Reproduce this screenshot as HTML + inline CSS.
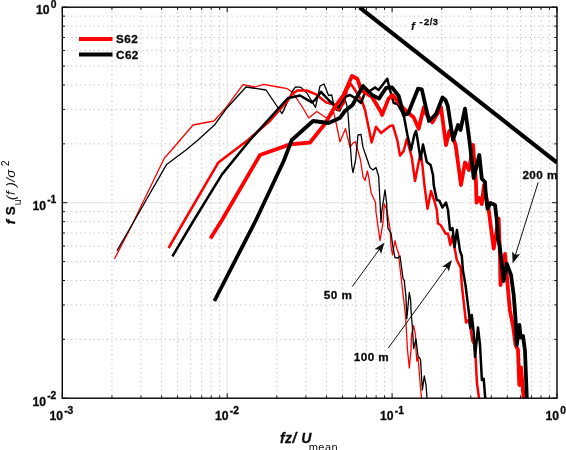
<!DOCTYPE html>
<html><head><meta charset="utf-8"><title>Spectra</title>
<style>html,body{margin:0;padding:0;background:#fff}body{width:566px;height:450px;overflow:hidden;position:relative}</style></head>
<body>
<svg width="566" height="450" viewBox="0 0 566 450" style="position:absolute;left:0;top:0">
<rect x="0" y="0" width="566" height="450" fill="#fff"/>
<path d="M111.94 7.20V398.20M140.98 7.20V398.20M161.58 7.20V398.20M177.56 7.20V398.20M190.62 7.20V398.20M201.66 7.20V398.20M211.22 7.20V398.20M219.65 7.20V398.20M276.84 7.20V398.20M305.88 7.20V398.20M326.48 7.20V398.20M342.46 7.20V398.20M355.52 7.20V398.20M366.56 7.20V398.20M376.12 7.20V398.20M384.55 7.20V398.20M441.74 7.20V398.20M470.78 7.20V398.20M491.38 7.20V398.20M507.36 7.20V398.20M520.42 7.20V398.20M531.46 7.20V398.20M541.02 7.20V398.20M549.45 7.20V398.20M62.30 339.35H557.00M62.30 304.92H557.00M62.30 280.50H557.00M62.30 261.55H557.00M62.30 246.07H557.00M62.30 232.98H557.00M62.30 221.65H557.00M62.30 211.65H557.00M62.30 143.85H557.00M62.30 109.42H557.00M62.30 85.00H557.00M62.30 66.05H557.00M62.30 50.57H557.00M62.30 37.48H557.00M62.30 26.15H557.00M62.30 16.15H557.00" stroke="#c6c2be" stroke-width="1" stroke-dasharray="1.3 3.15" fill="none"/>
<path d="M227.20 7.20V398.20M392.10 7.20V398.20M62.30 202.70H557.00" stroke="#e4e4e4" stroke-width="1" fill="none"/>
<clipPath id="c"><rect x="62.30" y="7.20" width="494.70" height="391.50"/></clipPath>
<g clip-path="url(#c)" fill="none" stroke-linejoin="round" stroke-linecap="butt">
<polyline points="114.4,259.0 130.0,229.0 164.4,158.0 171.6,150.0 193.0,125.0 214.0,121.0 226.0,107.6 243.0,84.6 255.0,87.0 264.0,84.4 278.0,87.0 287.5,88.7 293.0,93.0 303.0,108.0 308.7,118.0 316.8,111.5 325.0,117.0 328.0,118.6 333.7,112.5 336.0,122.5 340.0,141.8 345.5,128.7 350.0,147.4 353.0,143.0 355.5,141.8 358.0,151.0 360.5,160.0 363.0,176.8 365.0,180.5 367.4,171.0 369.0,178.7 371.0,192.4 375.5,202.4 376.0,212.0 380.0,240.6 383.0,222.5 384.3,204.0 386.9,210.0 390.0,228.7 391.0,246.0 392.5,255.0 395.0,240.6 396.9,248.7 398.7,253.7 399.3,262.0 405.6,316.0 407.5,350.0 409.3,368.0 411.0,350.0 411.5,335.0 413.6,325.6 415.5,335.0 416.0,350.0 416.8,361.0 418.0,357.5 419.3,372.5 420.5,387.5 421.5,398.0" stroke="#f00" stroke-width="1.3"/>
<polyline points="117.0,250.6 129.0,230.0 166.6,164.4 186.0,150.0 198.0,140.0 215.0,124.4 226.0,109.0 246.0,87.0 266.0,90.0 282.0,113.6 285.0,107.4 292.5,91.0 295.6,86.8 301.0,87.4 306.8,93.0 315.5,107.4 320.0,86.0 324.0,84.0 328.6,95.5 331.7,95.0 334.0,106.0 336.0,110.0 340.0,111.0 345.0,99.0 347.0,106.0 348.0,113.7 351.8,166.0 353.0,172.5 355.6,160.0 358.0,135.0 361.0,134.3 363.0,147.4 367.4,160.0 370.0,167.5 373.0,170.0 376.0,167.5 378.6,176.0 380.0,201.0 381.0,222.5 381.7,212.0 385.0,190.0 386.7,203.6 387.0,215.0 388.0,228.7 391.0,233.0 393.0,247.5 395.0,257.5 397.5,258.0 400.0,256.0 400.6,260.0 403.0,278.7 404.3,280.5 406.0,297.4 406.8,318.7 409.3,292.4 410.6,300.0 411.0,310.0 412.4,327.5 413.6,348.7 416.0,339.0 417.4,351.0 418.0,356.0 420.5,359.4 421.8,381.0 422.4,390.0 424.3,376.0 426.0,385.0 427.0,398.0" stroke="#000" stroke-width="1.3"/>
<polyline points="168.6,248.0 179.0,230.0 190.0,211.0 218.4,162.4 248.0,140.0 270.0,120.7 285.0,103.6 287.5,101.0 292.5,93.6 297.5,90.5 306.8,90.5 316.0,94.3 326.0,102.4 335.0,105.0 338.5,110.0 343.5,103.6 347.0,90.0 350.6,83.6 355.0,90.0 362.0,101.0 365.0,110.0 371.7,142.4 376.0,126.8 381.0,133.0 390.0,126.0 393.0,125.6 397.5,141.0 400.0,155.6 403.7,151.0 406.8,138.7 411.8,157.5 415.0,181.0 420.6,152.5 422.5,166.0 424.4,185.0 427.5,208.7 431.0,191.0 434.4,201.0 436.8,210.0 438.0,223.7 440.6,225.0 445.6,233.7 448.0,233.4 450.3,245.0 452.3,236.0 455.0,250.0 456.8,260.0 460.6,267.5 461.8,285.0 466.0,322.5 468.7,320.0 470.6,328.7 472.4,341.0 474.4,345.0 475.6,357.5 476.9,382.5 479.0,398.0" stroke="#f00" stroke-width="2.5"/>
<polyline points="172.4,256.4 188.0,230.0 194.0,220.0 222.0,174.4 250.0,140.0 288.0,98.0 291.0,97.4 300.0,95.5 311.8,102.4 315.0,100.0 321.0,91.8 328.6,100.0 335.0,106.0 338.5,107.4 345.0,96.8 350.0,95.0 356.0,98.6 361.0,103.0 365.0,92.4 368.7,91.8 375.0,87.4 378.6,90.0 387.3,78.7 389.0,86.0 390.0,90.0 393.7,103.0 397.5,104.0 403.7,115.0 407.4,135.0 411.0,150.0 414.3,135.0 416.0,131.0 416.8,135.0 420.6,159.4 423.0,144.4 426.8,162.0 430.6,165.0 433.0,175.0 433.7,185.0 436.8,200.0 439.3,200.6 442.4,207.5 446.0,202.5 448.0,210.0 450.0,230.0 452.5,228.0 454.6,247.0 456.9,230.0 460.0,251.0 461.8,256.0 463.0,271.0 465.5,285.0 469.3,316.0 470.3,328.0 471.8,315.0 473.7,332.5 475.0,357.0 478.0,327.5 480.0,345.0 481.9,380.0 483.7,378.7 485.2,398.0" stroke="#000" stroke-width="2.5"/>
<polyline points="210.4,238.6 222.0,220.0 260.0,155.0 290.0,144.4 310.0,142.5 325.0,123.7 333.7,108.7 343.5,95.0 352.0,76.0 357.5,79.0 360.6,88.7 364.0,92.0 372.0,97.0 381.0,112.0 382.0,115.0 388.6,98.6 392.5,95.0 403.7,108.7 413.7,117.5 418.7,128.7 423.7,107.5 426.0,113.7 432.4,122.4 441.0,107.5 446.0,145.0 449.4,131.0 452.0,135.0 455.6,145.0 461.0,185.0 465.0,162.5 469.0,170.0 473.0,145.0 476.0,182.5 476.5,202.5 479.4,198.0 481.8,204.0 484.0,185.0 488.7,210.0 493.7,248.7 498.7,218.7 500.0,257.5 500.5,285.0 505.0,254.0 509.0,301.0 510.0,311.0 513.0,326.0 515.6,345.0 518.0,350.0 519.3,385.0 521.0,367.5 523.6,398.0" stroke="#f00" stroke-width="3.8"/>
<polyline points="214.4,301.0 256.0,220.0 283.7,161.0 291.8,140.0 313.0,121.0 328.6,123.0 339.8,118.0 345.0,111.0 352.5,105.0 357.5,96.0 363.0,86.0 372.0,95.0 379.0,98.6 386.0,88.0 392.0,87.4 398.7,96.0 403.7,115.0 408.0,113.7 418.0,88.7 421.8,89.4 429.0,121.0 436.0,114.0 442.5,97.5 445.5,100.0 447.8,106.0 453.0,140.0 458.0,125.0 460.5,130.0 465.0,108.7 468.0,130.0 470.0,145.0 473.7,178.0 479.3,155.0 481.8,178.7 485.0,182.0 485.8,195.0 487.5,208.7 490.6,203.0 495.0,205.0 496.8,220.0 498.0,238.7 499.5,245.0 501.0,257.0 503.7,281.0 506.8,263.7 511.0,275.0 513.7,295.0 515.6,320.0 516.8,345.0 519.4,325.0 520.6,337.5 523.0,336.0 525.0,351.0 526.8,398.0" stroke="#000" stroke-width="3.8"/>
<line x1="359.5" y1="7.4" x2="557" y2="162.6" stroke="#000" stroke-width="4.1"/>
</g>
<rect x="62.30" y="7.20" width="494.70" height="391.00" fill="none" stroke="#000" stroke-width="1.4"/>
<path d="M62.30 398.20v-5.00M62.30 7.20v5.00M111.94 398.20v-2.70M111.94 7.20v2.70M140.98 398.20v-2.70M140.98 7.20v2.70M161.58 398.20v-2.70M161.58 7.20v2.70M177.56 398.20v-2.70M177.56 7.20v2.70M190.62 398.20v-2.70M190.62 7.20v2.70M201.66 398.20v-2.70M201.66 7.20v2.70M211.22 398.20v-2.70M211.22 7.20v2.70M219.65 398.20v-2.70M219.65 7.20v2.70M227.20 398.20v-5.00M227.20 7.20v5.00M276.84 398.20v-2.70M276.84 7.20v2.70M305.88 398.20v-2.70M305.88 7.20v2.70M326.48 398.20v-2.70M326.48 7.20v2.70M342.46 398.20v-2.70M342.46 7.20v2.70M355.52 398.20v-2.70M355.52 7.20v2.70M366.56 398.20v-2.70M366.56 7.20v2.70M376.12 398.20v-2.70M376.12 7.20v2.70M384.55 398.20v-2.70M384.55 7.20v2.70M392.10 398.20v-5.00M392.10 7.20v5.00M441.74 398.20v-2.70M441.74 7.20v2.70M470.78 398.20v-2.70M470.78 7.20v2.70M491.38 398.20v-2.70M491.38 7.20v2.70M507.36 398.20v-2.70M507.36 7.20v2.70M520.42 398.20v-2.70M520.42 7.20v2.70M531.46 398.20v-2.70M531.46 7.20v2.70M541.02 398.20v-2.70M541.02 7.20v2.70M549.45 398.20v-2.70M549.45 7.20v2.70M557.00 398.20v-5.00M557.00 7.20v5.00M62.30 398.20h5.00M557.00 398.20h-5.00M62.30 339.35h2.70M557.00 339.35h-2.70M62.30 304.92h2.70M557.00 304.92h-2.70M62.30 280.50h2.70M557.00 280.50h-2.70M62.30 261.55h2.70M557.00 261.55h-2.70M62.30 246.07h2.70M557.00 246.07h-2.70M62.30 232.98h2.70M557.00 232.98h-2.70M62.30 221.65h2.70M557.00 221.65h-2.70M62.30 211.65h2.70M557.00 211.65h-2.70M62.30 202.70h5.00M557.00 202.70h-5.00M62.30 143.85h2.70M557.00 143.85h-2.70M62.30 109.42h2.70M557.00 109.42h-2.70M62.30 85.00h2.70M557.00 85.00h-2.70M62.30 66.05h2.70M557.00 66.05h-2.70M62.30 50.57h2.70M557.00 50.57h-2.70M62.30 37.48h2.70M557.00 37.48h-2.70M62.30 26.15h2.70M557.00 26.15h-2.70M62.30 16.15h2.70M557.00 16.15h-2.70M62.30 7.20h5.00M557.00 7.20h-5.00" stroke="#111" stroke-width="1" fill="none"/>
<line x1="79" y1="39" x2="112.5" y2="39" stroke="#f00" stroke-width="3.8"/>
<line x1="79" y1="54.5" x2="112.5" y2="54.5" stroke="#000" stroke-width="3.8"/>
<line x1="352.2" y1="286.7" x2="379.7" y2="248.9" stroke="#111" stroke-width="1"/><polygon points="384.4,242.5 381.1,254.1 379.2,249.6 374.4,249.2" fill="#111"/>
<line x1="388.2" y1="348.2" x2="447.4" y2="266.4" stroke="#111" stroke-width="1"/><polygon points="452.0,260.0 448.8,271.6 446.8,267.1 442.0,266.7" fill="#111"/>
<line x1="538.2" y1="182.3" x2="515.1" y2="256.0" stroke="#111" stroke-width="1"/><polygon points="512.7,263.5 512.1,251.5 515.3,255.1 520.1,254.0" fill="#111"/>
<text x="116.0" y="43.2" style="font-family:'Liberation Sans',sans-serif;font-weight:bold;fill:#0a0a0a;stroke:#0a0a0a;stroke-width:0.3px;letter-spacing:0.45px;font-size:11.7px" text-anchor="start" >S62</text>
<text x="116.0" y="58.7" style="font-family:'Liberation Sans',sans-serif;font-weight:bold;fill:#0a0a0a;stroke:#0a0a0a;stroke-width:0.3px;letter-spacing:0.45px;font-size:11.7px" text-anchor="start" >C62</text>
<text x="323.8" y="299.3" style="font-family:'Liberation Sans',sans-serif;font-weight:bold;fill:#0a0a0a;stroke:#0a0a0a;stroke-width:0.3px;letter-spacing:0.45px;font-size:11.7px" text-anchor="start" >50 m</text>
<text x="353.8" y="361.0" style="font-family:'Liberation Sans',sans-serif;font-weight:bold;fill:#0a0a0a;stroke:#0a0a0a;stroke-width:0.3px;letter-spacing:0.45px;font-size:11.7px" text-anchor="start" >100 m</text>
<text x="522.4" y="178.8" style="font-family:'Liberation Sans',sans-serif;font-weight:bold;fill:#0a0a0a;stroke:#0a0a0a;stroke-width:0.3px;letter-spacing:0.45px;font-size:11.7px" text-anchor="start" >200 m</text>
<text x="411" y="29.7" style="font-family:'Liberation Sans',sans-serif;font-weight:bold;fill:#0a0a0a;stroke:#0a0a0a;stroke-width:0.3px;letter-spacing:0.45px;font-size:11.7px"><tspan font-style="italic" style="stroke-width:0.1px">f</tspan><tspan dx="4.2" dy="-5.0" style="font-size:9.3px">-<tspan dx="1">2/3</tspan></tspan></text>
<text x="35.9" y="14.3" style="font-family:'Liberation Sans',sans-serif;font-weight:bold;fill:#0a0a0a;stroke:#0a0a0a;stroke-width:0.3px;letter-spacing:0.45px;font-size:12.2px;letter-spacing:0">10<tspan dx="1.2" dy="-6.6" style="font-size:10.3px">0</tspan></text>
<text x="32.4" y="209.9" style="font-family:'Liberation Sans',sans-serif;font-weight:bold;fill:#0a0a0a;stroke:#0a0a0a;stroke-width:0.3px;letter-spacing:0.45px;font-size:12.2px;letter-spacing:0">10<tspan dx="1.2" dy="-6.6" style="font-size:10.3px">-1</tspan></text>
<text x="32.4" y="405.8" style="font-family:'Liberation Sans',sans-serif;font-weight:bold;fill:#0a0a0a;stroke:#0a0a0a;stroke-width:0.3px;letter-spacing:0.45px;font-size:12.2px;letter-spacing:0">10<tspan dx="1.2" dy="-6.6" style="font-size:10.3px">-2</tspan></text>
<text x="49.4" y="420.1" style="font-family:'Liberation Sans',sans-serif;font-weight:bold;fill:#0a0a0a;stroke:#0a0a0a;stroke-width:0.3px;letter-spacing:0.45px;font-size:12.2px;letter-spacing:0">10<tspan dx="1.2" dy="-6.6" style="font-size:10.3px">-3</tspan></text>
<text x="215.0" y="420.1" style="font-family:'Liberation Sans',sans-serif;font-weight:bold;fill:#0a0a0a;stroke:#0a0a0a;stroke-width:0.3px;letter-spacing:0.45px;font-size:12.2px;letter-spacing:0">10<tspan dx="1.2" dy="-6.6" style="font-size:10.3px">-2</tspan></text>
<text x="380.0" y="420.1" style="font-family:'Liberation Sans',sans-serif;font-weight:bold;fill:#0a0a0a;stroke:#0a0a0a;stroke-width:0.3px;letter-spacing:0.45px;font-size:12.2px;letter-spacing:0">10<tspan dx="1.2" dy="-6.6" style="font-size:10.3px">-1</tspan></text>
<text x="545.6" y="420.1" style="font-family:'Liberation Sans',sans-serif;font-weight:bold;fill:#0a0a0a;stroke:#0a0a0a;stroke-width:0.3px;letter-spacing:0.45px;font-size:12.2px;letter-spacing:0">10<tspan dx="1.2" dy="-6.6" style="font-size:10.3px">0</tspan></text>
<text x="279.9" y="443" style="font-family:'Liberation Sans',sans-serif;font-weight:bold;fill:#0a0a0a;stroke:#0a0a0a;stroke-width:0.3px;letter-spacing:0.45px;font-size:14px;font-style:italic">fz/ U<tspan dx="-3" dy="7.6" style="font-size:11px;font-style:normal;font-weight:normal;stroke:none">mean</tspan></text>
<text transform="translate(14.5,224.3) rotate(-90)" style="font-family:'Liberation Sans',sans-serif;font-weight:bold;fill:#0a0a0a;stroke:#0a0a0a;stroke-width:0.3px;letter-spacing:0.45px;font-size:13.4px"><tspan font-style="italic">f</tspan> S<tspan dy="6.3" dx="0.5" style="font-size:10.5px;font-weight:normal;stroke:none">u</tspan><tspan dy="-6.3" dx="-1" style="font-style:italic;font-weight:normal;stroke:none">(f )/&#963;</tspan><tspan dy="-5.5" dx="3" style="font-size:10.5px;font-weight:normal;stroke:none">2</tspan></text>
</svg>
</body></html>
